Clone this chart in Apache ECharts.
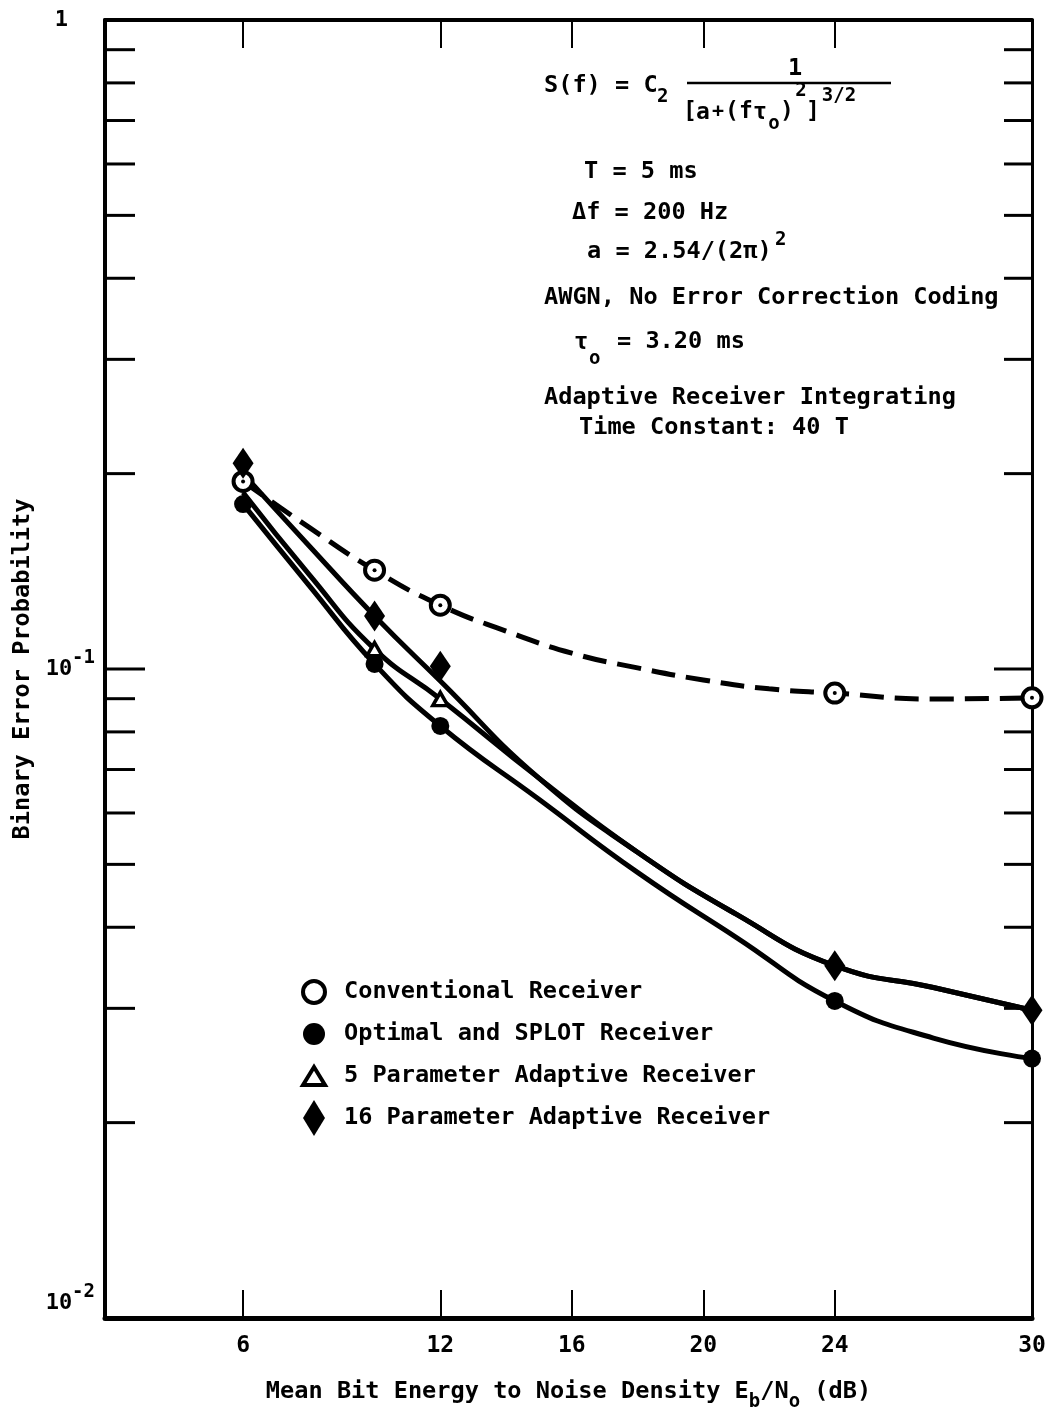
<!DOCTYPE html>
<html>
<head>
<meta charset="utf-8">
<title>Binary Error Probability</title>
<script src="https://cdn.jsdelivr.net/npm/echarts@6/dist/echarts.min.js"></script>
<style>
  html, body { margin: 0; padding: 0; background: #fff; }
  #chart { width: 1048px; height: 1412px; }
</style>
</head>
<body>
<div id="chart"></div>
<script>
// axis setup
const xMin = 1.8;
const xMax = 30;
const xTickValues = [6, 12, 16, 20, 24];
const xLabelValues = [6, 12, 16, 20, 24, 30];
const yMinorTicks = [0.02, 0.03, 0.04, 0.05, 0.06, 0.07, 0.08, 0.09, 0.2, 0.3, 0.4, 0.5, 0.6, 0.7, 0.8, 0.9];
const yMajorTicks = [0.1];

// plotted points
const convX = [6, 10, 12, 24, 30];
const convY = [0.1945, 0.142, 0.1254, 0.0918, 0.0903];
const optX = [6, 10, 12, 24, 30];
const optY = [0.1795, 0.1018, 0.0817, 0.0308, 0.0251];
const p5X = [10, 12];
const p5Y = [0.1073, 0.0899];
const p16X = [6, 10, 12, 24, 30];
const p16Y = [0.2075, 0.1207, 0.101, 0.0349, 0.0298];

// hand-drawn curves through the points
const convCurveX = [6, 8, 10, 12, 14, 16, 18, 20, 22, 24, 27, 30];
const convCurveY = [0.1945, 0.1654, 0.142, 0.1254, 0.1144, 0.1058, 0.1004, 0.0962, 0.0932, 0.0918, 0.0899, 0.0903];
const optCurveX = [6, 8, 10, 12, 15, 18, 21, 24, 27, 30];
const optCurveY = [0.1795, 0.1347, 0.1018, 0.0817, 0.063, 0.0486, 0.0386, 0.0308, 0.027, 0.0251];
const p5CurveX = [6, 8, 10, 12, 15, 18, 21, 24, 27, 30];
const p5CurveY = [0.187, 0.14, 0.1073, 0.0899, 0.0679, 0.0522, 0.0419, 0.0349, 0.0323, 0.0298];
const p16CurveX = [6, 8, 10, 12, 15, 18, 21, 24, 27, 30];
const p16CurveY = [0.2, 0.155, 0.1207, 0.0958, 0.0679, 0.0522, 0.0419, 0.0349, 0.0323, 0.0298];

const FONT = "'DejaVu Sans Mono', monospace";
const FS = 23.6;
const SS = 19;

const pts = (xs, ys) => xs.map((x, i) => [x, ys[i]]);

function txt(text, x, y, size, align) {
  return {
    type: 'text', x: x, y: y, silent: true,
    style: { text: text, fill: '#000', font: 'bold ' + size + 'px ' + FONT, align: align || 'left', verticalAlign: 'middle' }
  };
}

const chart = echarts.init(document.getElementById('chart'));

const curveLine = (name, data, dashed) => ({
  name: name,
  type: 'line',
  data: data,
  smooth: 0.5,
  symbol: 'none',
  silent: true,
  lineStyle: { color: '#000', width: 5, opacity: 1, type: dashed ? [24, 11] : 'solid', cap: 'butt' },
  z: 2
});

const option = {
  animation: false,
  backgroundColor: '#fff',
  grid: { left: 105, right: 16, top: 20, bottom: 94, outerBoundsMode: 'none', containLabel: false },
  xAxis: [
    {
      type: 'value', min: xMin, max: xMax, position: 'bottom',
      axisLine: { onZero: false, lineStyle: { color: '#000', width: 5 } },
      axisTick: { inside: true, length: 28, lineStyle: { color: '#000', width: 2 }, customValues: xTickValues },
      axisLabel: { margin: 17, color: '#000', fontFamily: FONT, fontWeight: 'bold', fontSize: 23, customValues: xLabelValues },
      splitLine: { show: false },
      name: '{t|Mean Bit Energy to Noise Density E}{s|b}{t|/N}{s|o}{t| (dB)}',
      nameLocation: 'middle',
      nameGap: 53,
      nameMoveOverlap: false,
      nameTextStyle: {
        color: '#000', fontFamily: FONT, fontSize: FS, fontWeight: 'bold',
        rich: {
          t: { fontFamily: FONT, fontSize: FS, fontWeight: 'bold', color: '#000' },
          s: { fontFamily: FONT, fontSize: SS, fontWeight: 'bold', color: '#000', padding: [22, 0, 0, 0] }
        }
      }
    },
    {
      type: 'value', min: xMin, max: xMax, position: 'top',
      axisLine: { onZero: false, lineStyle: { color: '#000', width: 4 } },
      axisTick: { inside: true, length: 28, lineStyle: { color: '#000', width: 2 }, customValues: xTickValues },
      axisLabel: { show: false },
      splitLine: { show: false }
    }
  ],
  yAxis: [
    {
      type: 'log', logBase: 10, min: 0.01, max: 1, position: 'left',
      axisLine: { onZero: false, lineStyle: { color: '#000', width: 4 } },
      axisTick: { show: false },
      splitLine: { show: false },
      axisLabel: {
        margin: 10,
        formatter: function (v) {
          const e = Math.round(Math.log10(v));
          if (e === 0) return '{one|1}';
          if (e === -2) return '{b2|10}{s2|' + e + '}';
          return '{b|10}{s|' + e + '}';
        },
        rich: {
          one: { fontFamily: FONT, fontSize: 22, fontWeight: 'bold', color: '#000', padding: [0, 27, 0, 0] },
          b: { fontFamily: FONT, fontSize: 22, fontWeight: 'bold', color: '#000' },
          s: { fontFamily: FONT, fontSize: 19, fontWeight: 'bold', color: '#000', padding: [0, 0, 22, 0] },
          b2: { fontFamily: FONT, fontSize: 22, fontWeight: 'bold', color: '#000', padding: [0, 0, 30, 0] },
          s2: { fontFamily: FONT, fontSize: 19, fontWeight: 'bold', color: '#000', padding: [0, 0, 52, 0] }
        }
      },
      name: 'Binary Error Probability',
      nameLocation: 'middle',
      nameGap: 70,
      nameTextStyle: { color: '#000', fontFamily: FONT, fontSize: FS, fontWeight: 'bold' }
    },
    {
      type: 'log', logBase: 10, min: 0.01, max: 1, position: 'right',
      axisLine: { onZero: false, lineStyle: { color: '#000', width: 3 } },
      axisTick: { show: false },
      axisLabel: { show: false },
      splitLine: { show: false }
    }
  ],
  legend: {
    orient: 'vertical',
    left: 296,
    top: 969,
    itemWidth: 22,
    itemHeight: 36,
    itemGap: 6,
    selectedMode: false,
    symbolKeepAspect: true,
    textStyle: { color: '#000', fontFamily: FONT, fontSize: FS, fontWeight: 'bold', lineHeight: 36, padding: [0, 0, 0, 14] },
    data: [
      { name: 'Conventional Receiver', icon: 'circle', itemStyle: { color: '#fff', borderColor: '#000', borderWidth: 4, opacity: 1 } },
      { name: 'Optimal and SPLOT Receiver', icon: 'circle', itemStyle: { color: '#000', opacity: 1 } },
      { name: '5 Parameter Adaptive Receiver', icon: 'path://M0,18L11,0L22,18Z', itemStyle: { color: '#fff', borderColor: '#000', borderWidth: 4, opacity: 1 } },
      { name: '16 Parameter Adaptive Receiver', icon: 'path://M11,0L22,18L11,36L0,18Z', itemStyle: { color: '#000', opacity: 1 } }
    ]
  },
  graphic: [
    txt('S(f) = C', 544, 86, FS),
    txt('2', 657, 97, SS),
    txt('1', 795, 69, FS, 'center'),
    { type: 'line', silent: true, shape: { x1: 687, y1: 83, x2: 891, y2: 83 }, style: { stroke: '#000', lineWidth: 2.5 } },
    txt('[', 690, 112, 23, 'center'),
    txt('a', 703, 113, 23, 'center'),
    txt('+', 718, 112, 20, 'center'),
    txt('(', 732, 112, 23, 'center'),
    txt('f', 746, 112, 23, 'center'),
    txt('\u03c4', 760, 113, 23, 'center'),
    txt('o', 774, 124, SS, 'center'),
    txt(')', 787, 112, 23, 'center'),
    txt('2', 801, 91, SS, 'center'),
    txt(']', 813, 112, 23, 'center'),
    txt('3/2', 839, 96, SS, 'center'),
    txt('T = 5 ms', 584, 172, FS),
    txt('\u0394f = 200 Hz', 572, 213, FS),
    txt('a = 2.54/(2\u03c0)', 587, 252, FS),
    txt('2', 775, 240, SS),
    txt('AWGN, No Error Correction Coding', 544, 298, FS),
    txt('\u03c4', 574, 343, FS),
    txt('o', 589, 359, SS),
    txt('= 3.20 ms', 617, 342, FS),
    txt('Adaptive Receiver Integrating', 544, 398, FS),
    txt('Time Constant: 40 T', 579, 428, FS)
  ],
  series: [
    {
      name: 'y-ticks',
      type: 'custom',
      coordinateSystem: 'cartesian2d',
      silent: true,
      data: yMinorTicks.concat(yMajorTicks).map(v => [xMin, v]),
      renderItem: function (params, api) {
        const v = api.value(1);
        const l = api.coord([xMin, v]);
        const r = api.coord([xMax, v]);
        const major = yMajorTicks.indexOf(v) >= 0;
        const ll = major ? 40 : 30;
        const rl = major ? 38 : 28;
        const st = { stroke: '#000', lineWidth: 3 };
        return {
          type: 'group',
          children: [
            { type: 'line', shape: { x1: l[0], y1: l[1], x2: l[0] + ll, y2: l[1] }, style: st },
            { type: 'line', shape: { x1: r[0] - rl, y1: r[1], x2: r[0], y2: r[1] }, style: st }
          ]
        };
      },
      z: 1
    },
    curveLine('conv-curve', pts(convCurveX, convCurveY), true),
    curveLine('opt-curve', pts(optCurveX, optCurveY), false),
    curveLine('p5-curve', pts(p5CurveX, p5CurveY), false),
    curveLine('p16-curve', pts(p16CurveX, p16CurveY), false),
    {
      name: 'Conventional Receiver', type: 'scatter', data: pts(convX, convY),
      symbol: 'circle', symbolSize: 19,
      itemStyle: { color: '#fff', borderColor: '#000', borderWidth: 4, opacity: 1 }, z: 4
    },
    {
      name: 'conv-dot', type: 'scatter', data: pts(convX, convY), silent: true,
      symbol: 'circle', symbolSize: 4, itemStyle: { color: '#000', opacity: 1 }, z: 5
    },
    {
      name: 'Optimal and SPLOT Receiver', type: 'scatter', data: pts(optX, optY),
      symbol: 'circle', symbolSize: 18, itemStyle: { color: '#000', opacity: 1 }, z: 4
    },
    {
      name: '5 Parameter Adaptive Receiver', type: 'scatter', data: pts(p5X, p5Y),
      symbol: 'triangle', symbolSize: [15, 13],
      itemStyle: { color: '#fff', borderColor: '#000', borderWidth: 3.5, opacity: 1 }, z: 4
    },
    {
      name: '16 Parameter Adaptive Receiver', type: 'scatter', data: pts(p16X, p16Y),
      symbol: 'diamond', symbolSize: [21, 31], itemStyle: { color: '#000', opacity: 1 }, z: 4
    }
  ]
};

chart.setOption(option);
</script>
</body>
</html>
